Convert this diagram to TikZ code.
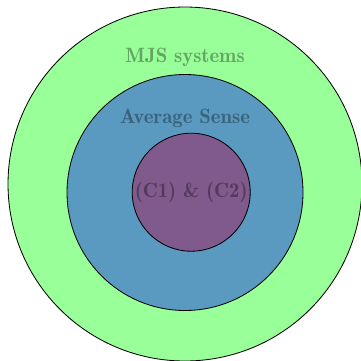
\documentclass[tikz,border=0pt]{standalone}
\usepackage{tikz}
\usetikzlibrary{positioning}
\definecolor{mjsgreen}{RGB}{153, 255, 153}
\definecolor{avgblue}{RGB}{90, 153, 192}
\definecolor{ccpurple}{RGB}{128, 90, 140}

\begin{document}
\begin{tikzpicture}[
  ring/.style={circle, draw=black, inner sep=0pt},
  setlabel/.style={font=\normalsize\fontseries{b}\selectfont, text=black, text opacity=0.35}
]
  \useasboundingbox (-3.136,-2.983) rectangle (2.983,3.119);
  \node[ring, fill=mjsgreen, minimum size=6cm] (mjs) at (0,0) {};
  \node[ring, fill=avgblue, minimum size=4cm] (avg) at (0,-0.144) {};
  \node[ring, fill=ccpurple, minimum size=2cm, setlabel] (cc) at (0.105,-0.139) {(C1) \& (C2)};

  \node[setlabel] (mjslabel) at (0,2.15) {MJS systems};
  \node[setlabel] (avglabel) at (0,1.11) {Average Sense};
\end{tikzpicture}
\end{document}
